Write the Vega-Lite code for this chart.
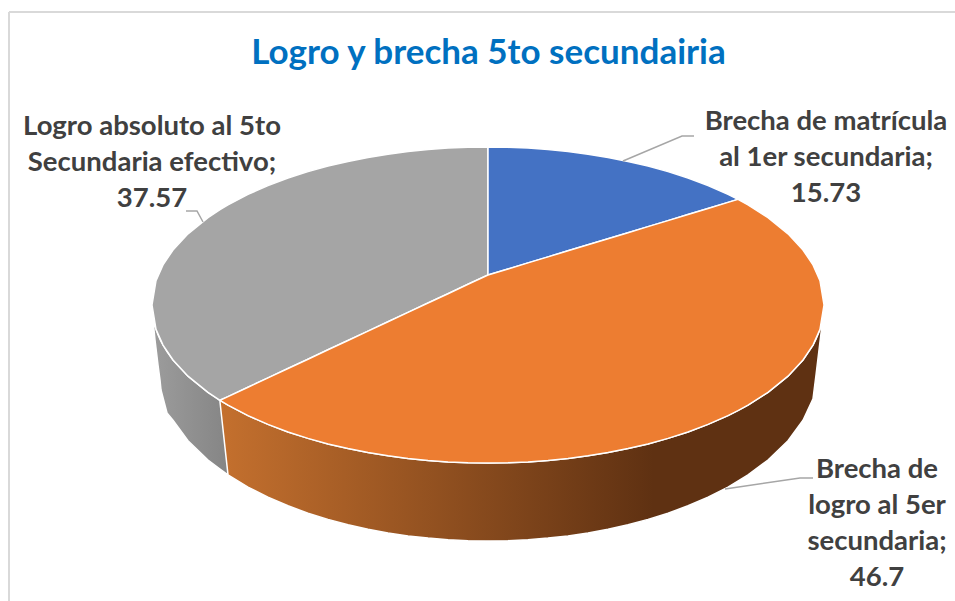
{"$schema":"https://vega.github.io/schema/vega-lite/v6.json","width":955,"height":601,"padding":0,"autosize":{"type":"none"},"background":"white","config":{"view":{"stroke":null}},
"title":{"text":"Logro y brecha 5to secundairia","font":"Lato","fontWeight":"bold","fontSize":35,"color":"#0070C0","anchor":"middle","dx":11,"offset":-99,"baseline":"alphabetic"},
"datasets":{
"frame":[{"x":-479,"x2":-479,"y":293,"y2":-296},{"x":-479,"x2":467,"y":293,"y2":293}],
"wallGray":[{"dx":-335,"top":-13,"bottom":-15},{"dx":-333,"top":-21,"bottom":-35},{"dx":-330,"top":-29.7,"bottom":-60},{"dx":-328,"top":-34.3,"bottom":-75},{"dx":-327,"top":-36.3,"bottom":-85},{"dx":-321,"top":-46.7,"bottom":-108},{"dx":-315,"top":-55,"bottom":-115.3},{"dx":-300,"top":-71.2,"bottom":-135.7},{"dx":-280,"top":-87.3,"bottom":-155},{"dx":-268,"top":-95.3,"bottom":-164},{"dx":-260,"top":-100.1,"bottom":-169.9}],
"wallOrange":[{"dx":-268,"top":-95.3,"bottom":-97},{"dx":-260,"top":-100.1,"bottom":-169.9},{"dx":-240,"top":-110.6,"bottom":-182.1},{"dx":-220,"top":-119.4,"bottom":-192.2},{"dx":-200,"top":-127,"bottom":-200.8},{"dx":-180,"top":-133.4,"bottom":-208.2},{"dx":-160,"top":-138.9,"bottom":-214.4},{"dx":-140,"top":-143.6,"bottom":-219.8},{"dx":-120,"top":-147.6,"bottom":-224.2},{"dx":-100,"top":-150.8,"bottom":-227.9},{"dx":-80,"top":-153.5,"bottom":-230.9},{"dx":-60,"top":-155.5,"bottom":-233.1},{"dx":-40,"top":-156.9,"bottom":-234.7},{"dx":-20,"top":-157.7,"bottom":-235.7},{"dx":0,"top":-158,"bottom":-236},{"dx":20,"top":-157.7,"bottom":-235.7},{"dx":40,"top":-156.9,"bottom":-234.7},{"dx":60,"top":-155.5,"bottom":-233.1},{"dx":80,"top":-153.5,"bottom":-230.9},{"dx":100,"top":-150.8,"bottom":-227.9},{"dx":120,"top":-147.6,"bottom":-224.2},{"dx":140,"top":-143.6,"bottom":-219.8},{"dx":160,"top":-138.9,"bottom":-214.4},{"dx":180,"top":-133.4,"bottom":-208.2},{"dx":200,"top":-127,"bottom":-200.8},{"dx":220,"top":-119.4,"bottom":-192.2},{"dx":240,"top":-110.6,"bottom":-182.1},{"dx":260,"top":-100.1,"bottom":-169.9},{"dx":280,"top":-87.3,"bottom":-155},{"dx":300,"top":-71.2,"bottom":-135.7},{"dx":315,"top":-55,"bottom":-115.3},{"dx":325,"top":-40.1,"bottom":-93.9},{"dx":328,"top":-34.3,"bottom":-70},{"dx":331,"top":-27,"bottom":-45},{"dx":334,"top":-17,"bottom":-20}],
"faces":[
{"part":"Logro absoluto","dx":-336,"top":0,"bottom":0},{"part":"Logro absoluto","dx":-332,"top":24.3,"bottom":-24.3},{"part":"Logro absoluto","dx":-325,"top":40.1,"bottom":-40.1},{"part":"Logro absoluto","dx":-315,"top":55,"bottom":-55},{"part":"Logro absoluto","dx":-300,"top":71.2,"bottom":-71.2},{"part":"Logro absoluto","dx":-280,"top":87.3,"bottom":-87.3},{"part":"Logro absoluto","dx":-268,"top":95.3,"bottom":-95.3},{"part":"Logro absoluto","dx":-260,"top":100.1,"bottom":-91.6},{"part":"Logro absoluto","dx":-240,"top":110.6,"bottom":-82.2},{"part":"Logro absoluto","dx":-220,"top":119.4,"bottom":-72.9},{"part":"Logro absoluto","dx":-200,"top":127,"bottom":-63.5},{"part":"Logro absoluto","dx":-180,"top":133.4,"bottom":-54.2},{"part":"Logro absoluto","dx":-160,"top":138.9,"bottom":-44.8},{"part":"Logro absoluto","dx":-140,"top":143.6,"bottom":-35.5},{"part":"Logro absoluto","dx":-120,"top":147.6,"bottom":-26.1},{"part":"Logro absoluto","dx":-100,"top":150.8,"bottom":-16.8},{"part":"Logro absoluto","dx":-80,"top":153.5,"bottom":-7.4},{"part":"Logro absoluto","dx":-60,"top":155.5,"bottom":1.95},{"part":"Logro absoluto","dx":-40,"top":156.9,"bottom":11.3},{"part":"Logro absoluto","dx":-20,"top":157.7,"bottom":20.7},{"part":"Logro absoluto","dx":0,"top":158,"bottom":30},
{"part":"Brecha de matrícula","dx":0,"top":158,"bottom":30},{"part":"Brecha de matrícula","dx":20,"top":157.7,"bottom":36},{"part":"Brecha de matrícula","dx":40,"top":156.9,"bottom":42.1},{"part":"Brecha de matrícula","dx":60,"top":155.5,"bottom":48.1},{"part":"Brecha de matrícula","dx":80,"top":153.5,"bottom":54.2},{"part":"Brecha de matrícula","dx":100,"top":150.8,"bottom":60.2},{"part":"Brecha de matrícula","dx":120,"top":147.6,"bottom":66.3},{"part":"Brecha de matrícula","dx":140,"top":143.6,"bottom":72.3},{"part":"Brecha de matrícula","dx":160,"top":138.9,"bottom":78.4},{"part":"Brecha de matrícula","dx":180,"top":133.4,"bottom":84.4},{"part":"Brecha de matrícula","dx":200,"top":127,"bottom":90.5},{"part":"Brecha de matrícula","dx":220,"top":119.4,"bottom":96.5},{"part":"Brecha de matrícula","dx":240,"top":110.6,"bottom":102.6},{"part":"Brecha de matrícula","dx":250,"top":105.6,"bottom":105.6},
{"part":"Brecha de logro","dx":-268,"top":-95.3,"bottom":-95.3},{"part":"Brecha de logro","dx":-260,"top":-91.6,"bottom":-100.1},{"part":"Brecha de logro","dx":-240,"top":-82.2,"bottom":-110.6},{"part":"Brecha de logro","dx":-220,"top":-72.9,"bottom":-119.4},{"part":"Brecha de logro","dx":-200,"top":-63.5,"bottom":-127},{"part":"Brecha de logro","dx":-180,"top":-54.2,"bottom":-133.4},{"part":"Brecha de logro","dx":-160,"top":-44.8,"bottom":-138.9},{"part":"Brecha de logro","dx":-140,"top":-35.5,"bottom":-143.6},{"part":"Brecha de logro","dx":-120,"top":-26.1,"bottom":-147.6},{"part":"Brecha de logro","dx":-100,"top":-16.8,"bottom":-150.8},{"part":"Brecha de logro","dx":-80,"top":-7.4,"bottom":-153.5},{"part":"Brecha de logro","dx":-60,"top":1.95,"bottom":-155.5},{"part":"Brecha de logro","dx":-40,"top":11.3,"bottom":-156.9},{"part":"Brecha de logro","dx":-20,"top":20.7,"bottom":-157.7},{"part":"Brecha de logro","dx":0,"top":30,"bottom":-158},{"part":"Brecha de logro","dx":20,"top":36,"bottom":-157.7},{"part":"Brecha de logro","dx":40,"top":42.1,"bottom":-156.9},{"part":"Brecha de logro","dx":60,"top":48.1,"bottom":-155.5},{"part":"Brecha de logro","dx":80,"top":54.2,"bottom":-153.5},{"part":"Brecha de logro","dx":100,"top":60.2,"bottom":-150.8},{"part":"Brecha de logro","dx":120,"top":66.3,"bottom":-147.6},{"part":"Brecha de logro","dx":140,"top":72.3,"bottom":-143.6},{"part":"Brecha de logro","dx":160,"top":78.4,"bottom":-138.9},{"part":"Brecha de logro","dx":180,"top":84.4,"bottom":-133.4},{"part":"Brecha de logro","dx":200,"top":90.5,"bottom":-127},{"part":"Brecha de logro","dx":220,"top":96.5,"bottom":-119.4},{"part":"Brecha de logro","dx":240,"top":102.6,"bottom":-110.6},{"part":"Brecha de logro","dx":250,"top":105.6,"bottom":-105.6},{"part":"Brecha de logro","dx":260,"top":100.1,"bottom":-100.1},{"part":"Brecha de logro","dx":280,"top":87.3,"bottom":-87.3},{"part":"Brecha de logro","dx":300,"top":71.2,"bottom":-71.2},{"part":"Brecha de logro","dx":315,"top":55,"bottom":-55},{"part":"Brecha de logro","dx":325,"top":40.1,"bottom":-40.1},{"part":"Brecha de logro","dx":332,"top":24.3,"bottom":-24.3},{"part":"Brecha de logro","dx":336,"top":0,"bottom":0}],
"leaders":[{"part":"matricula","i":1,"dx":135,"y":144},{"part":"matricula","i":2,"dx":194,"y":169},{"part":"matricula","i":3,"dx":206,"y":169},{"part":"absoluto","i":1,"dx":-285,"y":83},{"part":"absoluto","i":2,"dx":-291,"y":94},{"part":"absoluto","i":3,"dx":-302,"y":94},{"part":"logro","i":1,"dx":237,"y":-184},{"part":"logro","i":2,"dx":312,"y":-173},{"part":"logro","i":3,"dx":325,"y":-173}],
"labels":[{"label":"Brecha de matrícula\nal 1er secundaria;\n15.73","dx":338,"y":183,"value":15.73},{"label":"Brecha de\nlogro al 5er\nsecundaria;\n46.7","dx":389,"y":-165,"value":46.7},{"label":"Logro absoluto al 5to\nSecundaria efectivo;\n37.57","dx":-336,"y":178,"value":37.57}]
},
"encoding":{"x":{"field":"dx","type":"quantitative","axis":null,"scale":{"domain":[-488,467],"nice":false,"zero":false}},"y":{"field":"top","type":"quantitative","axis":null,"scale":{"domain":[-296,305],"nice":false,"zero":false}}},
"layer":[
{"data":{"name":"frame"},"mark":{"type":"rule","color":"#D9D9D9","strokeWidth":2},"encoding":{"x":{"field":"x","type":"quantitative"},"x2":{"field":"x2"},"y":{"field":"y","type":"quantitative"},"y2":{"field":"y2"}}},
{"data":{"name":"wallGray"},"mark":{"type":"area","stroke":"white","strokeWidth":1.5,"color":{"gradient":"linear","x1":0,"x2":1,"y1":0,"y2":0,"stops":[{"offset":0,"color":"#9C9C9C"},{"offset":1,"color":"#858585"}]}},"encoding":{"y2":{"field":"bottom"}}},
{"data":{"name":"wallOrange"},"mark":{"type":"area","stroke":"white","strokeWidth":1.5,"color":{"gradient":"linear","x1":0,"x2":1,"y1":0,"y2":0,"stops":[{"offset":0,"color":"#C4702E"},{"offset":0.72,"color":"#5F3112"},{"offset":1,"color":"#5F3112"}]}},"encoding":{"y2":{"field":"bottom"}}},
{"data":{"name":"faces"},"mark":{"type":"area","stroke":"white","strokeWidth":1.5},"encoding":{"y2":{"field":"bottom"},"color":{"field":"part","type":"nominal","legend":null,"scale":{"domain":["Brecha de matrícula","Brecha de logro","Logro absoluto"],"range":["#4472C4","#ED7D31","#A5A5A5"]}}}},
{"data":{"name":"leaders"},"mark":{"type":"line","color":"#A6A6A6","strokeWidth":1.5},"encoding":{"y":{"field":"y","type":"quantitative"},"detail":{"field":"part"},"order":{"field":"i"}}},
{"data":{"name":"labels"},"mark":{"type":"text","font":"Lato","fontWeight":"bold","fontSize":27.5,"color":"#404040","lineBreak":"\n","lineHeight":36,"align":"center","baseline":"middle"},"encoding":{"y":{"field":"y","type":"quantitative"},"text":{"field":"label"}}}
]}
